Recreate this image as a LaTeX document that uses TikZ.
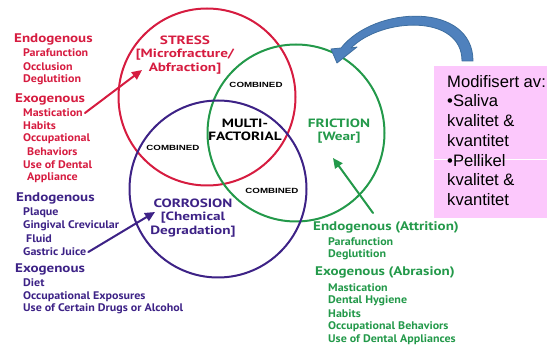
\documentclass[tikz,border=0pt]{standalone}
\usepackage{fontspec}
\newfontfamily\causefont{PT Sans}[FakeStretch=1.09]
\newfontfamily\headfont{PT Sans}[FakeStretch=1.2]
\newfontfamily\zonefont{PT Sans}[FakeStretch=1.27]
\newfontfamily\combfont{Liberation Sans}[FakeStretch=1.3]
\newfontfamily\notefont{Liberation Sans}
\usetikzlibrary{arrows.meta}
\definecolor{stressred}{HTML}{D61C40}
\definecolor{corrpurple}{HTML}{3D2286}
\definecolor{fricgreen}{HTML}{23994A}
\definecolor{arcblue}{HTML}{4F81BD}
\definecolor{arcedge}{HTML}{3E6E9F}
\definecolor{notepink}{HTML}{FCC8FC}
\tikzset{
  every picture/.style={line join=round, line cap=round, >=Stealth},
  grouphead/.style={anchor=west, inner sep=0pt, font=\headfont\bfseries\fontsize{12.5}{14}\selectfont},
  cause/.style={anchor=west, inner sep=0pt, font=\causefont\bfseries\fontsize{11}{12}\selectfont},
  zonelabel/.style={align=center, inner sep=0pt, font=\zonefont\bfseries\fontsize{12}{13.5}\selectfont},
  combined/.style={inner sep=0pt, font=\combfont\bfseries\fontsize{7.5}{9}\selectfont},
  ring/.style={circle, draw, line width=2pt, minimum size=177pt, inner sep=0pt},
  pointer/.style={line width=2pt, -{Triangle[length=10pt,width=9pt]}},
}

\begin{document}
\begin{tikzpicture}[x=1pt,y=-1pt]
\useasboundingbox (0,0) rectangle (547,347);
\node[ring, stressred] (stress) at (207,97) {};
\node[ring, fricgreen] (friction) at (296,133) {};
\node[ring, corrpurple] (corrosion) at (218,189) {};
\node[zonelabel, stressred] (stresslbl) at (185,55) {STRESS\\{[}Microfracture/\\Abfraction{]}};
\node[zonelabel, fricgreen] (friclbl) at (339,131) {FRICTION\\{[}Wear{]}};
\node[zonelabel, corrpurple] (corrlbl) at (193,218) {CORROSION\\{[}Chemical\\Degradation{]}};
\node[zonelabel, black] (multi) at (245,130) {MULTI-\\FACTORIAL};
\node[combined] (comb1) at (256,85) {COMBINED};
\node[combined] (comb2) at (173,148) {COMBINED};
\node[combined] (comb3) at (272,191) {COMBINED};
\node[grouphead, stressred] (stressendo) at (14,39) {Endogenous};
\node[cause, stressred] (parafunc) at (23,53) {Parafunction};
\node[cause, stressred] (occlusion) at (23,67) {Occlusion};
\node[cause, stressred] (deglut) at (23,80) {Deglutition};
\node[grouphead, stressred] (stressexo) at (15,99) {Exogenous};
\node[cause, stressred] (mast) at (23,113) {Mastication};
\node[cause, stressred] (habits) at (23,126) {Habits};
\node[cause, stressred] (occup) at (23,139) {Occupational};
\node[cause, stressred] (behav) at (27,152) {Behaviors};
\node[cause, stressred] (usedental) at (23,165) {Use of Dental};
\node[cause, stressred] (appliance) at (27,178) {Appliance};
\node[grouphead, corrpurple] (correndo) at (16,198) {Endogenous};
\node[cause, corrpurple] (plaque) at (23,213) {Plaque};
\node[cause, corrpurple] (gingival) at (23,226) {Gingival Crevicular};
\node[cause, corrpurple] (fluid) at (26,239) {Fluid};
\node[cause, corrpurple] (gastric) at (23,252) {Gastric Juice};
\node[grouphead, corrpurple] (correxo) at (15,269) {Exogenous};
\node[cause, corrpurple] (diet) at (23,283) {Diet};
\node[cause, corrpurple] (occexp) at (23,297) {Occupational Exposures};
\node[cause, corrpurple] (drugs) at (23,309) {Use of Certain Drugs or Alcohol};
\node[grouphead, fricgreen] (attrition) at (313,227) {Endogenous (Attrition)};
\node[cause, fricgreen] (fparafunc) at (328,242) {Parafunction};
\node[cause, fricgreen] (fdeglut) at (328,255) {Deglutition};
\node[grouphead, fricgreen] (abrasion) at (315,272) {Exogenous (Abrasion)};
\node[cause, fricgreen] (fmast) at (328,288) {Mastication};
\node[cause, fricgreen] (hygiene) at (328,301) {Dental Hygiene};
\node[cause, fricgreen] (fhabits) at (328,314) {Habits};
\node[cause, fricgreen] (fbehav) at (328,327) {Occupational Behaviors};
\node[cause, fricgreen] (fappl) at (328,340) {Use of Dental Appliances};
\coordinate (stresstip) at (142,70);
\coordinate (corrtip) at (155,212);
\coordinate (frictail) at (373,213);
\coordinate (frictip) at (333,158);
\draw[pointer, stressred] (mast.east) ++(2,0) -- (stresstip);
\draw[pointer, corrpurple] (gastric.east) ++(2,0) -- (corrtip);
\draw[pointer, fricgreen] (frictail) -- (frictip);
\node[fill=notepink, minimum width=113pt, minimum height=152pt, inner sep=0pt] (notebox) at (490.5,142) {};
\draw[white, line width=0.6pt] (notebox.west |- 0,159) -- (notebox.east |- 0,159);
\node[anchor=north west, align=left, inner sep=0pt, font=\notefont\fontsize{16.6}{19.7}\selectfont] (note) at (447,75)
  {Modifisert av:\\\textbullet Saliva\\kvalitet \&\\kvantitet\\\textbullet Pellikel\\kvalitet \&\\kvantitet};
\fill[arcblue, draw=arcedge, line width=0.8pt] (473,61) .. controls (473,2) and (375,5) .. (341,48) -- (331,49) -- (337,63) -- (357,47) -- (351,48) .. controls (382,17) and (462,14) .. (462,61) -- cycle;
\end{tikzpicture}
\end{document}
